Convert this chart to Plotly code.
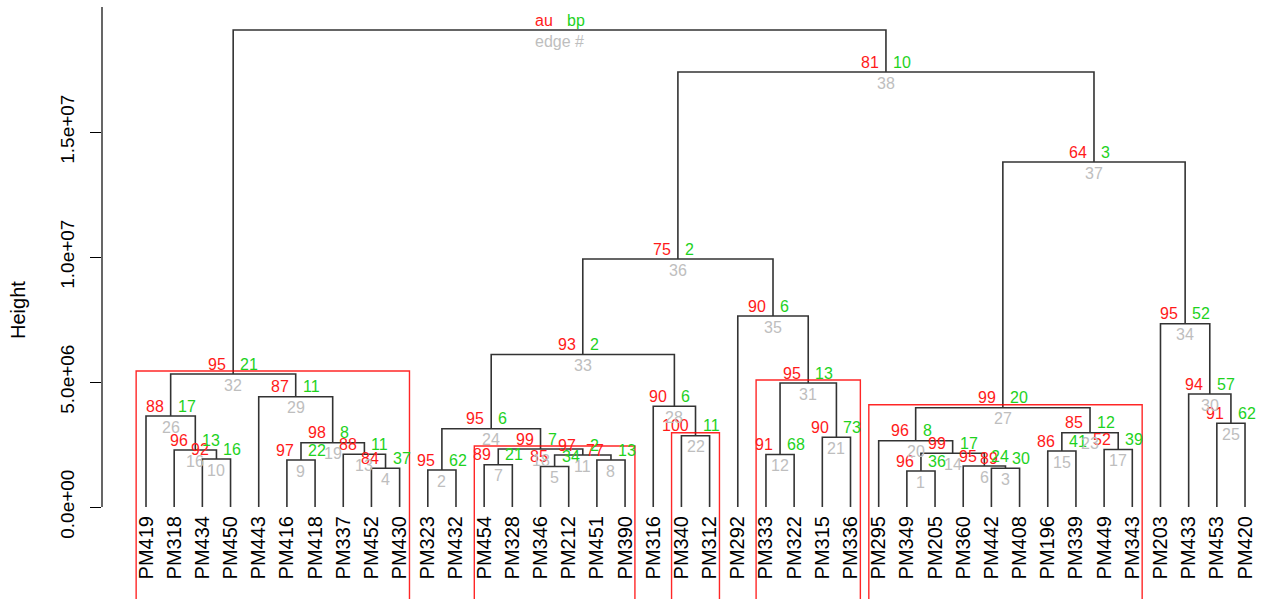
import plotly.graph_objects as go

# ---------------- data ----------------
leaf_labels = ["PM419", "PM318", "PM434", "PM450", "PM443", "PM416", "PM418", "PM337", "PM452", "PM430",
               "PM323", "PM432", "PM454", "PM328", "PM346", "PM212", "PM451", "PM390", "PM316", "PM340",
               "PM312", "PM292", "PM333", "PM322", "PM315", "PM336", "PM295", "PM349", "PM205", "PM360",
               "PM442", "PM408", "PM196", "PM339", "PM449", "PM343", "PM203", "PM433", "PM453", "PM420"]

# hclust-style merges (negative = leaf position, positive = earlier merge / edge number)
merge_left = [-28, -11, -31, -9, -15, -30, -13, -17, -6, -3, 5, -23, -8, 1, -33, -2, -35, 7, 9, -27,
              -25, -20, 15, 2, -39, -1, 20, -19, -5, -38, 12, 26, 24, -37, -22, 33, 27, 36, 32]
merge_right = [-29, -12, -32, -10, -16, 3, -14, -18, -7, -4, 8, -24, 4, 6, -34, 10, -36, 11, 13, 14,
               -26, -21, 17, 18, -40, 16, 23, 22, 19, 25, 21, 29, 28, 30, 31, 35, 34, 37, 38]
heights = [1.44e6, 1.48e6, 1.55e6, 1.55e6, 1.62e6, 1.64e6, 1.69e6, 1.88e6, 1.88e6, 1.92e6,
           2.08e6, 2.10e6, 2.11e6, 2.15e6, 2.24e6, 2.28e6, 2.30e6, 2.32e6, 2.57e6, 2.65e6,
           2.79e6, 2.85e6, 2.97e6, 3.13e6, 3.35e6, 3.64e6, 3.97e6, 4.03e6, 4.41e6, 4.52e6,
           4.96e6, 5.32e6, 6.10e6, 7.33e6, 7.64e6, 9.92e6, 13.80e6, 17.40e6, 19.08e6]
au_values = [96, 95, 89, 84, 85, 95, 89, 77, 97, 92, 97, 91, 88, 99, 86, 96, 52, 99, 98, 96,
             90, 100, 85, 95, 91, 88, 99, 90, 87, 94, 95, 95, 93, 95, 90, 75, 64, 81]
bp_values = [36, 62, 30, 37, 34, 24, 21, 13, 22, 16, 2, 68, 11, 17, 41, 13, 39, 7, 8, 8,
             73, 11, 12, 6, 62, 17, 20, 6, 11, 57, 13, 21, 2, 52, 6, 2, 3, 10]
boxed_edges = [32, 18, 22, 31, 27]

y_tick_vals = [0, 5e6, 1e7, 1.5e7]
y_tick_text = ["0.0e+00", "5.0e+06", "1.0e+07", "1.5e+07"]

# ---------------- styles ----------------
FONT = "Liberation Sans, Arial, Helvetica, sans-serif"
RED = "#FF1A1A"
GREEN = "#1ED21E"
GRAY = "#BEBEBE"
LINE = "#333333"
PX_PER_LEAF = 28.18
PX_PER_UNIT_Y = 25 / 1e6
W, H = 1269, 599
ML = 102

# ---------------- geometry from tree ----------------
n_leaf = len(leaf_labels)
node_x, node_y, members = {}, {}, {}


def child(c):
    if c < 0:
        return float(-c), 0.0, [-c]
    return node_x[c], node_y[c], members[c]


xs, ys = [], []
for i in range(len(heights)):
    e = i + 1
    lx, ly, lm = child(merge_left[i])
    rx, ry, rm = child(merge_right[i])
    h = heights[i]
    xs += [lx, lx, rx, rx, None]
    ys += [ly, h, h, ry, None]
    node_x[e] = (lx + rx) / 2
    node_y[e] = h
    members[e] = lm + rm

fig = go.Figure()
fig.add_trace(go.Scatter(x=xs, y=ys, mode="lines", line=dict(color=LINE, width=1.6),
                         hoverinfo="skip", showlegend=False))

# red rectangles (pvrect)
y_lo = -3.68e6
y_hi = y_lo + H / PX_PER_UNIT_Y
mx = 0.35
my = (y_hi - y_lo) / 200
for e in boxed_edges:
    m = members[e]
    fig.add_shape(type="rect", xref="x", yref="y",
                  x0=min(m) - mx, x1=max(m) + mx, y0=y_lo - 1e6, y1=node_y[e] + my,
                  line=dict(color="rgba(255,0,0,0.85)", width=1.4), fillcolor="rgba(0,0,0,0)")

# pv labels
annos = []
PV = 16
for i in range(len(heights)):
    e = i + 1
    x, y = node_x[e], node_y[e]
    if i < len(au_values):
        a, b, c = str(au_values[i]), str(bp_values[i]), str(e)
    else:
        a, b, c = "au", "bp", "edge #"
    annos.append(dict(x=x, y=y, xref="x", yref="y", text=a, showarrow=False, xanchor="right",
                      yanchor="middle", xshift=-5, yshift=10, font=dict(size=PV, color=RED, family=FONT)))
    annos.append(dict(x=x, y=y, xref="x", yref="y", text=b, showarrow=False, xanchor="left",
                      yanchor="middle", xshift=5, yshift=10, font=dict(size=PV, color=GREEN, family=FONT)))
    annos.append(dict(x=x, y=y, xref="x", yref="y", text=c, showarrow=False, xanchor="center",
                      yanchor="middle", yshift=-11, font=dict(size=PV, color=GRAY, family=FONT)))

annos.append(dict(x=0, y=1 - 310 / H, xref="paper", yref="paper", text="Height", showarrow=False,
                  textangle=-90, xanchor="center", yanchor="middle", xshift=-84,
                  font=dict(size=20, color="black", family=FONT)))

# y-axis line (from 0 to 2e7 as in R)
fig.add_shape(type="line", xref="paper", yref="y", x0=0, x1=0, y0=0, y1=2e7,
              line=dict(color="black", width=1.2))

plot_w = W - ML
x_lo = 1 - (146 - ML) / PX_PER_LEAF
x_hi = x_lo + plot_w / PX_PER_LEAF

fig.update_layout(
    width=W, height=H,
    margin=dict(l=ML, r=0, t=0, b=0, pad=0),
    paper_bgcolor="white", plot_bgcolor="white",
    showlegend=False,
    annotations=annos,
    font=dict(family=FONT, color="black"),
    xaxis=dict(range=[x_lo, x_hi], tickmode="array", tickvals=list(range(1, n_leaf + 1)),
               ticktext=leaf_labels, tickangle=-90, showgrid=False, zeroline=False,
               showline=False, ticks="", anchor="free", position=(H - 507) / H,
               tickfont=dict(size=20, color="black", family=FONT), automargin=False,
               ticklabelstandoff=4),
    yaxis=dict(range=[y_lo, y_hi], tickmode="array", tickvals=y_tick_vals, ticktext=y_tick_text,
               tickangle=-90, ticks="outside", ticklen=11, tickwidth=1.2, tickcolor="black",
               showgrid=False, zeroline=False, showline=False, automargin=False,
               tickfont=dict(size=19, color="black", family=FONT), ticklabelstandoff=8),
)

fig.write_html("out.html")
